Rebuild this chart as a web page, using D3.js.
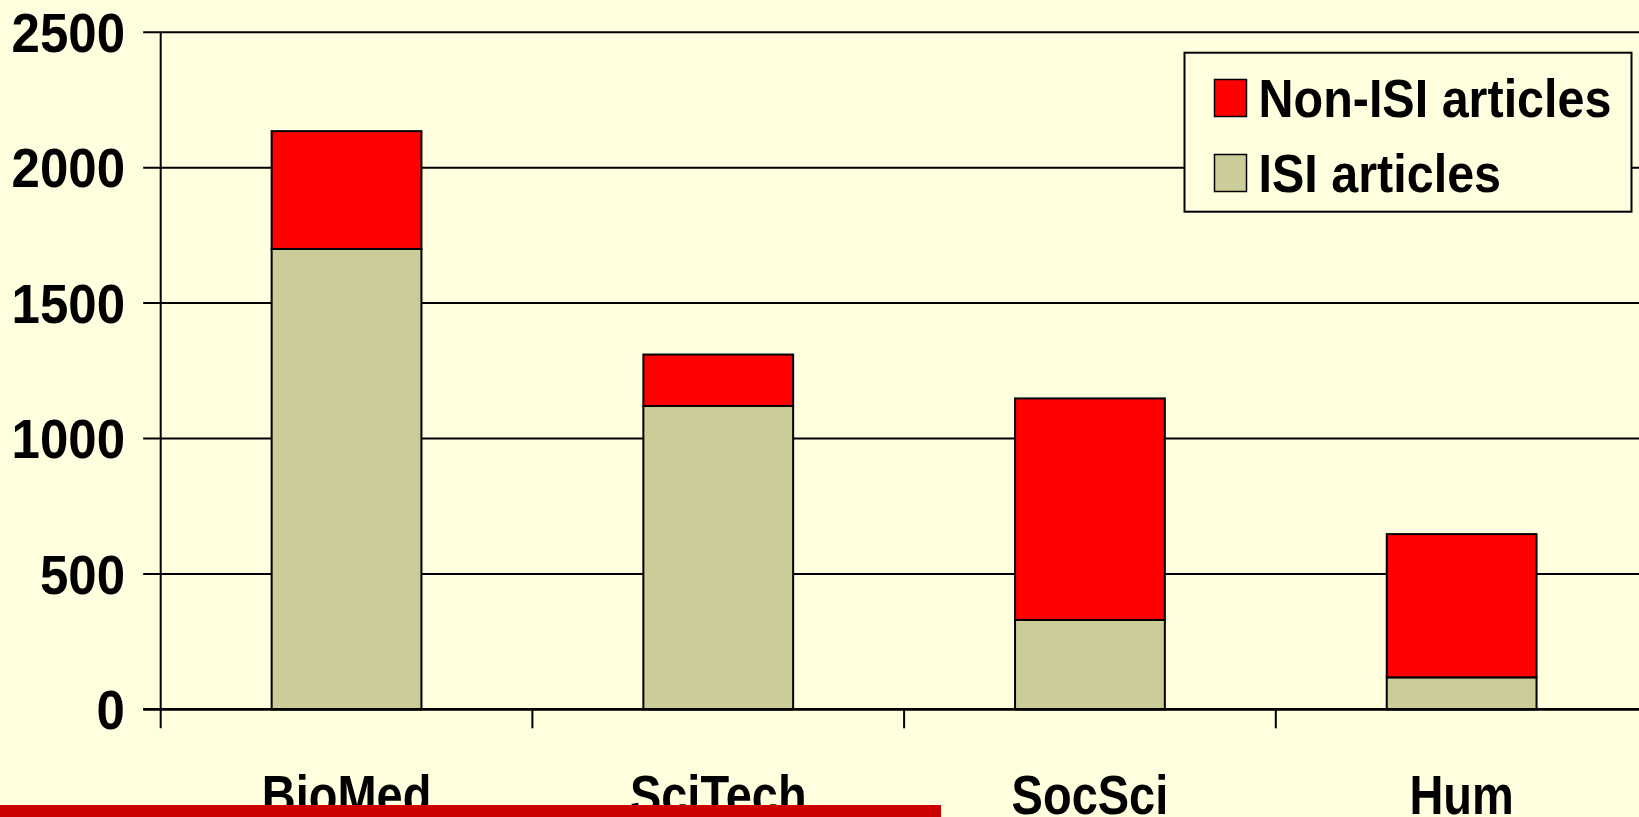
<!DOCTYPE html>
<html>
<head>
<meta charset="utf-8">
<script src="https://cdn.jsdelivr.net/npm/d3@7"></script>
<style>
  html, body { margin: 0; padding: 0; background: #FFFFE0; overflow: hidden; }
  svg { display: block; }
  text { font-family: "Liberation Sans", Arial, sans-serif; font-weight: bold; fill: #000; }
</style>
</head>
<body>
<svg id="chart" width="1639" height="817"></svg>
<script>
// ---- data ----
const categories = ["BioMed", "SciTech", "SocSci", "Hum"];
const isiArticles = [1700, 1120, 330, 118];
const nonIsiArticles = [435, 190, 818, 529];
const seriesNames = ["Non-ISI articles", "ISI articles"];
const seriesColors = ["#FF0000", "#CCCC99"];
const yTicks = [0, 500, 1000, 1500, 2000, 2500];

// ---- layout ----
const W = 1639, H = 817;
const plotLeft = 160.7, plotRight = 1647.5, plotTop = 32.3, zeroY = 709.3;

const svg = d3.select("#chart");
svg.append("rect").attr("width", W).attr("height", H).attr("fill", "#FFFFE0");

const y = d3.scaleLinear().domain([0, 2500]).range([zeroY, plotTop]);
const xBand = d3.scaleBand().domain(categories).range([plotLeft, plotRight])
  .paddingInner(0.597).paddingOuter(0.2985);
const xCat = d3.scaleBand().domain(categories).range([plotLeft, plotRight]).padding(0);

// gridlines + y ticks
svg.append("g").selectAll("line").data(yTicks).join("line")
  .attr("x1", plotLeft - 17.5).attr("x2", W)
  .attr("y1", d => y(d)).attr("y2", d => y(d))
  .attr("stroke", "#000").attr("stroke-width", d => d === 0 ? 2.5 : 2);

// y tick labels
svg.append("g").selectAll("text").data(yTicks).join("text")
  .attr("transform", d => `translate(125,${y(d)}) scale(1,1.1)`)
  .attr("text-anchor", "end")
  .attr("dy", "0.35em")
  .attr("font-size", 51)
  .text(d => d);

// y axis
svg.append("line").attr("x1", plotLeft).attr("x2", plotLeft)
  .attr("y1", plotTop).attr("y2", zeroY + 19)
  .attr("stroke", "#000").attr("stroke-width", 2);

// x category tick marks
svg.append("g").selectAll("line").data(categories.slice(1)).join("line")
  .attr("x1", d => xCat(d)).attr("x2", d => xCat(d))
  .attr("y1", zeroY).attr("y2", zeroY + 19)
  .attr("stroke", "#000").attr("stroke-width", 2);

// stacked bars
const rows = categories.map((c, i) => ({ cat: c, isi: isiArticles[i], non: nonIsiArticles[i] }));
const stack = d3.stack().keys(["isi", "non"])(rows);
const colorOf = { isi: seriesColors[1], non: seriesColors[0] };
svg.append("g").selectAll("g").data(stack).join("g")
  .attr("fill", d => colorOf[d.key])
  .selectAll("rect").data(d => d).join("rect")
  .attr("x", d => xBand(d.data.cat))
  .attr("width", xBand.bandwidth())
  .attr("y", d => y(d[1]))
  .attr("height", d => y(d[0]) - y(d[1]))
  .attr("stroke", "#000").attr("stroke-width", 2);

// redraw zero axis on top
svg.append("line").attr("x1", plotLeft - 17.5).attr("x2", W)
  .attr("y1", zeroY).attr("y2", zeroY)
  .attr("stroke", "#000").attr("stroke-width", 2.5);

// x labels
svg.append("g").selectAll("text").data(categories).join("text")
  .attr("transform", d => `translate(${xBand(d) + xBand.bandwidth() / 2},814) scale(1,1.2)`)
  .attr("text-anchor", "middle")
  .attr("font-size", 47)
  .text(d => d);

// legend
const lg = svg.append("g");
lg.append("rect").attr("x", 1184.5).attr("y", 52.7).attr("width", 447).attr("height", 159)
  .attr("fill", "#FFFFE0").attr("stroke", "#000").attr("stroke-width", 2);
const legendRows = [
  { name: seriesNames[0], color: seriesColors[0], base: 116.5 },
  { name: seriesNames[1], color: seriesColors[1], base: 191.5 }
];
legendRows.forEach(r => {
  lg.append("rect").attr("x", 1214.5).attr("y", r.base - 37).attr("width", 32).attr("height", 37)
    .attr("fill", r.color).attr("stroke", "#000").attr("stroke-width", 1.5);
  lg.append("text")
    .attr("transform", `translate(1258.5,${r.base}) scale(1,1.1)`)
    .attr("font-size", 48.5)
    .text(r.name);
});

// footer bar
svg.append("rect").attr("x", 0).attr("y", 805).attr("width", 941).attr("height", 12)
  .attr("fill", "#CC0000");
</script>
</body>
</html>
